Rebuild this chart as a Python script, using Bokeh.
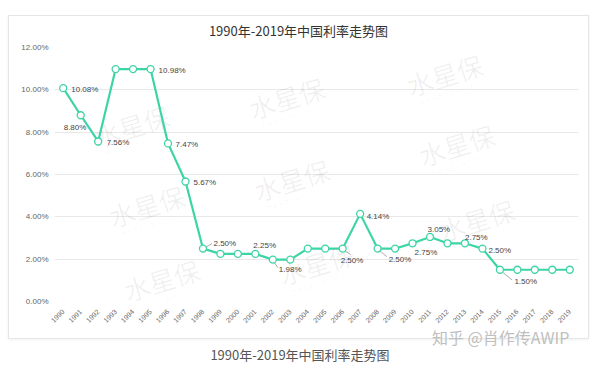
import math
from bokeh.plotting import figure
from bokeh.models import ColumnDataSource, FactorRange, Range1d, Div, FixedTicker
from bokeh.layouts import column
from bokeh.core.properties import value
from bokeh.embed import file_html
from bokeh.resources import INLINE

# ---------------- data ----------------
years = ["1990", "1991", "1992", "1993", "1994", "1995", "1996", "1997", "1998", "1999",
         "2000", "2001", "2002", "2003", "2004", "2005", "2006", "2007", "2008", "2009",
         "2010", "2011", "2012", "2013", "2014", "2015", "2016", "2017", "2018", "2019"]
rates = [10.08, 8.80, 7.56, 10.98, 10.98, 10.98, 7.47, 5.67, 2.50, 2.25,
         2.25, 2.25, 1.98, 1.98, 2.50, 2.50, 2.50, 4.14, 2.50, 2.50,
         2.75, 3.05, 2.75, 2.75, 2.50, 1.50, 1.50, 1.50, 1.50, 1.50]
y_ticks = [0, 2, 4, 6, 8, 10, 12]
labelled_years = ["1990", "1991", "1992", "1995", "1996", "1997", "1998", "2001", "2002",
                  "2006", "2007", "2008", "2010", "2011", "2013", "2014", "2015"]
title_text = "1990年-2019年中国利率走势图"
credit_text = "知乎 @肖作传AWIP"

# ---------------- styles ----------------
TEAL = "#3dd4a6"
W = 579
TITLE_H = 24
H = 322 - TITLE_H
ML, MR, MT, MB = 45, 10, 7, 37
FW, FH = W - ML - MR, H - MT - MB
px_x = FW / len(years)          # pixels per category
px_y = FH / (y_ticks[-1] - y_ticks[0])  # pixels per percent

# label offsets (screen px, +y is down), left aligned / middle baseline
label_dx = [8, -17, 8.5, 8, 7.5, 8, 10.5, -2, 6, -2, 6.5, 11, 2, -2.5, 0, 6, 14.5]
label_dy = [1, 12, 1, 1.5, 1, 1, -5, -8.5, 9.5, 12, 2.5, 11, 9, -7.5, -6, 2, 12]
# leader lines: (year, start dx, start dy, end dx, end dy) in px
leaders = [("1998", 2, -1, 9, -5), ("2002", 1, 2, 5, 8), ("2006", 2, 2, 8, 6),
           ("2008", 2, 2, 9, 8), ("2015", 2, 2, 12, 10)]

title_div = Div(width=W, height=TITLE_H, margin=(0, 0, 0, 0),
                text=('<div style="width:%dpx;text-align:center;padding-top:7px;'
                      'font-family:\'Noto Sans CJK SC\';font-size:13px;line-height:16px;'
                      'color:#333;white-space:nowrap;">%s</div>' % (W, title_text)))

p = figure(width=W, height=H,
           x_range=FactorRange(*years), y_range=Range1d(y_ticks[0], y_ticks[-1]),
           output_backend="svg", toolbar_location=None,
           min_border_left=ML, min_border_right=MR, min_border_top=MT, min_border_bottom=MB)
p.margin = (0, 0, 0, 0)
p.outline_line_color = None
p.background_fill_color = "white"
p.border_fill_color = "white"

p.xgrid.grid_line_color = None
p.ygrid.grid_line_color = "#e8e8e8"
p.ygrid.ticker = FixedTicker(ticks=y_ticks)

p.yaxis.ticker = FixedTicker(ticks=y_ticks)
p.yaxis.major_label_overrides = {t: f"{t:.2f}%" for t in y_ticks}
p.yaxis.axis_line_color = None
p.yaxis.major_tick_line_color = None
p.yaxis.minor_tick_line_color = None
p.yaxis.major_tick_out = 0
p.yaxis.minor_tick_out = 0
p.yaxis.major_label_text_font = "Liberation Sans"
p.yaxis.major_label_text_font_size = "8px"
p.yaxis.major_label_text_color = "#666666"
p.yaxis.major_label_standoff = 6

p.xaxis.axis_line_color = None
p.xaxis.major_tick_line_color = None
p.xaxis.major_tick_out = 0
p.xaxis.major_label_text_font = "Liberation Sans"
p.xaxis.major_label_text_font_size = "7px"
p.xaxis.major_label_text_color = "#666666"
p.xaxis.major_label_orientation = math.pi / 4
p.xaxis.major_label_standoff = 9

# ---------------- watermarks (decoration, frame pixel positions) ----------------
wm_pos = [(390, 27), (232, 50), (77, 78), (402, 97), (92, 158), (237, 132),
          (422, 172), (262, 216), (107, 232)]
wm_x = [x / px_x for x, _ in wm_pos]
wm_y = [(FH - y) / px_y for _, y in wm_pos]
p.text(x=wm_x, y=wm_y, text=["水星保"] * len(wm_pos), angle=0.3,
       text_font=value("Noto Sans CJK SC"), text_font_size="26px",
       text_color="#000000", text_alpha=0.06, text_align="center", text_baseline="middle")
p.text(x=wm_x, y=wm_y, text=["M E R C U R Y   I N C"] * len(wm_pos), angle=0.3,
       x_offset=[4] * len(wm_pos), y_offset=[20] * len(wm_pos),
       text_font=value("Liberation Sans"), text_font_size="6px",
       text_color="#000000", text_alpha=0.06, text_align="center", text_baseline="middle")

# ---------------- series ----------------
src = ColumnDataSource(dict(year=years, rate=rates))
p.line(x="year", y="rate", source=src, line_color=TEAL, line_width=2.2)

# leader lines
idx = {y: i for i, y in enumerate(years)}
lx0, ly0, lx1, ly1 = [], [], [], []
for yr, sx0, sy0, sx1, sy1 in leaders:
    i = idx[yr]
    xc = i + 0.5
    yc = rates[i]
    lx0.append(xc + sx0 / px_x); ly0.append(yc - sy0 / px_y)
    lx1.append(xc + sx1 / px_x); ly1.append(yc - sy1 / px_y)
p.segment(x0=lx0, y0=ly0, x1=lx1, y1=ly1, line_color="#aaaaaa", line_width=1)

p.scatter(x="year", y="rate", source=src, size=7, fill_color="white",
          line_color=TEAL, line_width=1.3)

lab_rates = [rates[idx[y]] for y in labelled_years]
lab_src = ColumnDataSource(dict(year=labelled_years, rate=lab_rates,
                                label=[f"{r:.2f}%" for r in lab_rates],
                                dx=label_dx, dy=label_dy))
p.text(x="year", y="rate", text="label", x_offset="dx", y_offset="dy", source=lab_src,
       text_font=value("Liberation Sans"), text_font_size="8px", text_color="#444444",
       text_align="left", text_baseline="middle")

card = column(title_div, p, spacing=0, margin=(15, 0, 0, 8),
              styles={"border": "1px solid #e6e6e6", "box-shadow": "0 1px 3px rgba(0,0,0,0.06)",
                      "background": "white"})

footer = Div(width=584, height=24, margin=(0, 0, 0, 8), styles={"overflow": "visible"},
             text=(
                 '<div style="position:relative;width:584px;height:24px;">'
                 '<span style="position:absolute;left:424px;top:-11px;font-family:\'Noto Sans CJK SC\';'
                 'font-size:16px;line-height:18px;color:#bfbfbf;white-space:nowrap;">'
                 + credit_text + '</span>'
                 '<span style="position:absolute;left:0;width:584px;text-align:center;top:8px;'
                 'font-family:\'Noto Sans CJK SC\';font-size:13px;line-height:16px;color:#555;'
                 'white-space:nowrap;">' + title_text + '</span></div>'))

layout = column(card, footer, spacing=0)
open("out.html", "w").write(file_html(layout, INLINE))
